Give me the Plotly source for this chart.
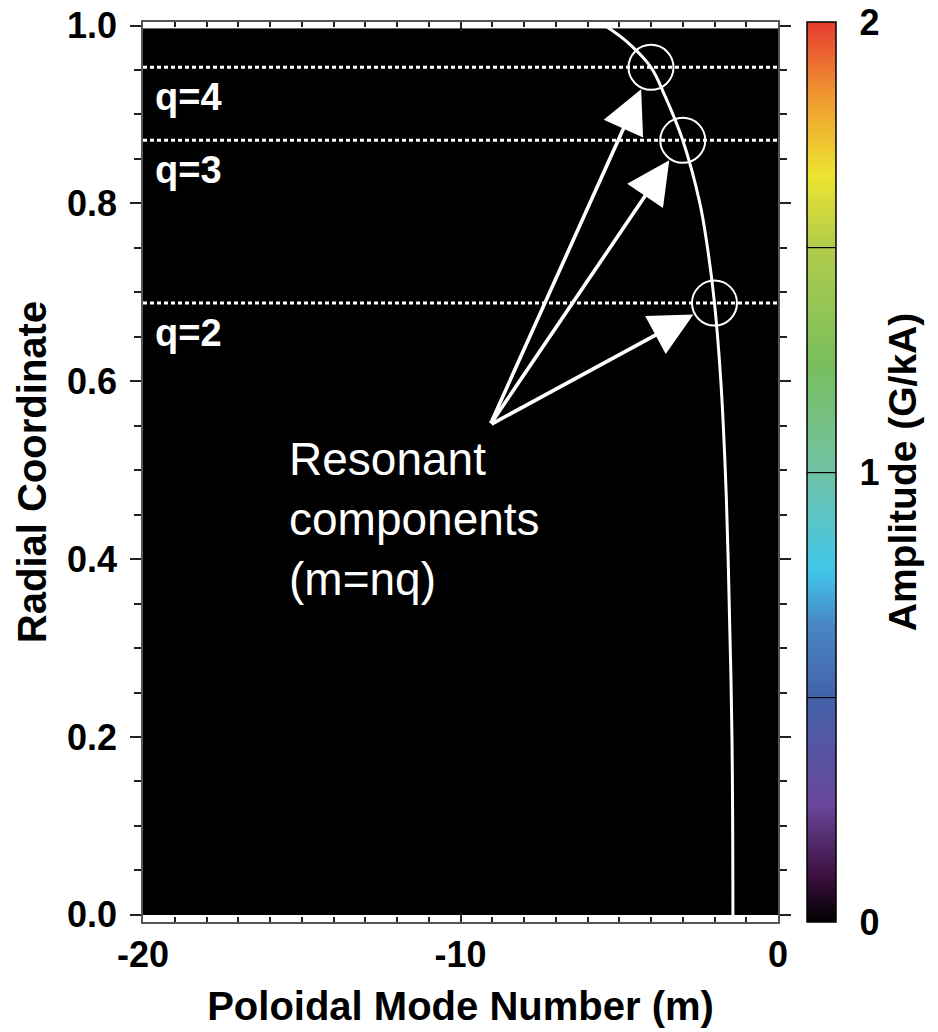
import plotly.graph_objects as go

# ---------------- data ----------------
# amplitude map (G/kA) - the whole map reads as ~0 (black)
m_grid = [-20, -10, 0]
r_grid = [0.0, 0.5, 0.997]
amplitude = [[0, 0, 0],
             [0, 0, 0],
             [0, 0, 0]]

# safety-factor profile q(r) (m = n*q, n = -1)
n_tor = -1
r_prof = [0.0, 0.2, 0.4, 0.5, 0.6, 0.688, 0.75, 0.8, 0.871, 0.92, 0.953, 0.98, 1.0]
q_prof = [1.42, 1.45, 1.57, 1.66, 1.80, 2.0, 2.22, 2.46, 3.0, 3.55, 4.0, 4.7, 5.45]

# rational surfaces
q_res = [4, 3, 2]
r_res = [0.953, 0.871, 0.688]
q_labels = ["q=4", "q=3", "q=2"]

# annotation text and arrow tail (data coords)
note_text = "Resonant<br>components<br>(m=nq)"
note_xy = (-15.45, 0.445)
tail_xy = (-9.07, 0.551)

# axis ticks
x_tickvals = [-20, -10, 0]
x_ticktext = ["-20", "-10", "0"]

# colour bar
amp_range = [0, 2]
amp_ticks = [0, 1, 2]
amp_levels = dict(start=0.5, end=1.5, size=0.5)
colorscale = [
    [0.00, "#000000"],
    [0.05, "#3c0f3e"],
    [0.13, "#6a469a"],
    [0.25, "#4262aa"],
    [0.33, "#4a86c4"],
    [0.39, "#40c6ea"],
    [0.50, "#72c2a6"],
    [0.62, "#78be5c"],
    [0.75, "#b2cc4c"],
    [0.83, "#ece430"],
    [0.92, "#f09632"],
    [1.00, "#e63c30"],
]

FONT = "Liberation Sans, Arial, sans-serif"

fig = go.Figure()

fig.add_trace(go.Contour(
    x=m_grid, y=r_grid, z=amplitude,
    zmin=amp_range[0], zmax=amp_range[1], zauto=False,
    autocontour=False, contours=dict(coloring="heatmap", showlines=True, **amp_levels),
    line=dict(color="black", width=1.2),
    colorscale=colorscale,
    colorbar=dict(
        x=1.0457, xanchor="left", xpad=0, y=0.5, yanchor="middle", ypad=0,
        len=1.0, lenmode="fraction", thickness=29,
        outlinecolor="black", outlinewidth=1.5,
        tickvals=amp_ticks, ticks="outside", ticklen=16, tickcolor="rgba(0,0,0,0)",
        ticklabeloverflow="allow",
        tickfont=dict(family=FONT, size=36, color="black", weight="bold"),
        title=dict(text="Amplitude (G/kA)", side="right",
                   font=dict(family=FONT, size=39, color="black", weight="bold")),
    ),
    hoverinfo="skip",
))

# resonance dotted lines
for r in r_res:
    fig.add_trace(go.Scatter(x=[m_grid[0], m_grid[-1]], y=[r, r], mode="lines",
                             line=dict(color="white", width=3, dash="4px,3px"),
                             showlegend=False, hoverinfo="skip"))

# q-profile curve m = n q
fig.add_trace(go.Scatter(x=[n_tor * q for q in q_prof], y=r_prof, mode="lines",
                         line=dict(color="white", width=3, shape="spline"),
                         showlegend=False, hoverinfo="skip"))

# circles at resonances
fig.add_trace(go.Scatter(x=[n_tor * q for q in q_res], y=r_res, mode="markers",
                         marker=dict(symbol="circle-open", size=45,
                                     line=dict(color="white", width=2), color="white"),
                         showlegend=False, hoverinfo="skip", cliponaxis=False))

# arrows
for q, r in zip(q_res, r_res):
    fig.add_annotation(x=n_tor * q, y=r, ax=tail_xy[0], ay=tail_xy[1],
                       axref="x", ayref="y", xref="x", yref="y", text="",
                       showarrow=True, arrowhead=2, arrowsize=2.4, arrowwidth=3.6,
                       arrowcolor="white", standoff=24)

# q labels
for lab, r in zip(q_labels, r_res):
    fig.add_annotation(x=m_grid[0], y=r, xref="x", yref="y", text=lab,
                       showarrow=False, xanchor="left", yanchor="middle",
                       xshift=10, yshift=-30,
                       font=dict(family=FONT, size=38, color="white", weight="bold"))

fig.add_annotation(x=note_xy[0], y=note_xy[1], xref="x", yref="y", text=note_text,
                   showarrow=False, xanchor="left", yanchor="middle", align="left",
                   font=dict(family=FONT, size=46, color="white"))

axis_font = dict(family=FONT, size=36, color="black", weight="bold")
title_font = dict(family=FONT, size=40, color="black", weight="bold")

fig.update_xaxes(
    range=[-20, 0], tickvals=x_tickvals, ticktext=x_ticktext,
    ticks="inside", ticklen=9, tickwidth=1.5,
    tickcolor="#222", minor=dict(dtick=1, ticks="inside", ticklen=5, tickcolor="#222"),
    showline=True, linecolor="#555", linewidth=1.5, mirror="ticks",
    showgrid=False, zeroline=False, tickfont=axis_font, ticklabeloverflow="allow",
    title=dict(text="Poloidal Mode Number (m)", font=title_font, standoff=18),
)
fig.update_yaxes(
    range=[-0.008, 1.004], tick0=0, dtick=0.2, tickformat=".1f",
    ticks="outside", ticklen=11, tickwidth=1.5, tickcolor="#222",
    minor=dict(dtick=0.05, ticks="outside", ticklen=7, tickcolor="#222"),
    showline=True, linecolor="#555", linewidth=1.5, mirror="ticks",
    showgrid=False, zeroline=False, tickfont=axis_font, ticklabelstandoff=6,
    ticklabeloverflow="allow",
    title=dict(text="Radial Coordinate", font=title_font, standoff=8),
)

fig.update_layout(
    width=938, height=1032,
    margin=dict(l=143, r=160, t=22, b=110, autoexpand=False),
    paper_bgcolor="white", plot_bgcolor="white",
    showlegend=False,
    font=dict(family=FONT),
)

fig.write_html("out.html")
